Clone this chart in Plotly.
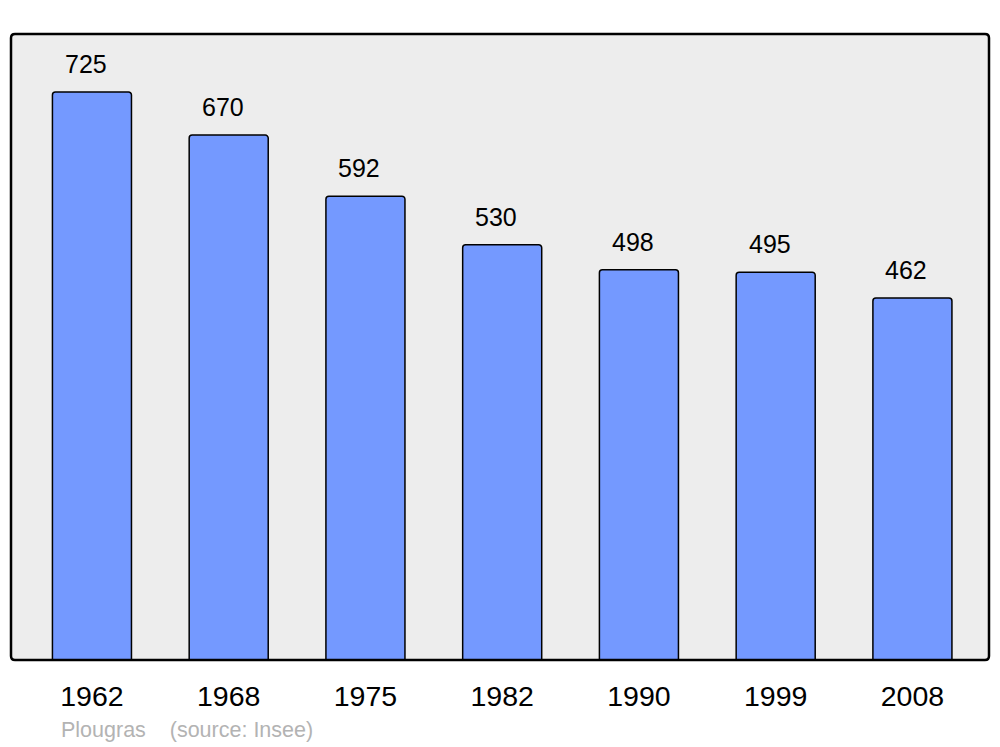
import plotly.graph_objects as go

years = ["1962", "1968", "1975", "1982", "1990", "1999", "2008"]
population = [725, 670, 592, 530, 498, 495, 462]
commune = "Plougras"
source = "(source: Insee)"

W, H = 1000, 747
ml, mr, mt, mb = 11, 11, 34, 87
pw, ph = W - ml - mr, H - mt - mb

fig = go.Figure()
fig.add_trace(go.Bar(
    x=list(range(len(years))), y=population, width=0.578,
    marker=dict(color="#7499ff", line=dict(color="#000000", width=1.5), cornerradius=3),
    hovertext=years, hoverinfo="text+y",
))

for i, v in enumerate(population):
    fig.add_annotation(x=i, y=v, text=str(v), showarrow=False, xanchor="center",
                       yanchor="middle", yshift=28, xshift=-6,
                       font=dict(family="Liberation Sans, Arial", size=25, color="#000000"))

fig.add_annotation(xref="paper", yref="paper", x=(59 - ml) / pw, y=(660 - 730) / ph,
                   xanchor="left", yanchor="middle", showarrow=False,
                   text=commune + "\u00a0\u00a0\u00a0\u00a0" + source,
                   font=dict(family="Liberation Sans, Arial", size=21.5, color="#b3b3b3"))

# rounded frame
rx, ry = 4 / pw, 4 / ph
path = (f"M {rx},0 L {1-rx},0 Q 1,0 1,{ry} L 1,{1-ry} Q 1,1 {1-rx},1 "
        f"L {rx},1 Q 0,1 0,{1-ry} L 0,{ry} Q 0,0 {rx},0 Z")
fig.add_shape(type="path", xref="paper", yref="paper", path=path,
              line=dict(color="#000000", width=2.5), layer="above")

fig.update_layout(
    width=W, height=H,
    margin=dict(l=ml, r=mr, t=mt, b=mb),
    paper_bgcolor="#ffffff", plot_bgcolor="#ededed",
    showlegend=False,
    font=dict(family="Liberation Sans, Arial", color="#000000"),
    xaxis=dict(range=[-0.592, 6.56], showgrid=False, zeroline=False,
               tickmode="array", tickvals=list(range(len(years))), ticktext=years,
               ticks="outside", ticklen=11, tickcolor="rgba(0,0,0,0)",
               tickfont=dict(size=28.5, family="Liberation Sans, Arial", color="#000000"),
               fixedrange=True),
    yaxis=dict(range=[0, 799], showgrid=False, zeroline=False, showticklabels=False,
               fixedrange=True),
)

fig.write_html("out.html", config={"displayModeBar": False},
               post_script="document.body.style.margin='0';document.body.style.overflow='hidden';")
